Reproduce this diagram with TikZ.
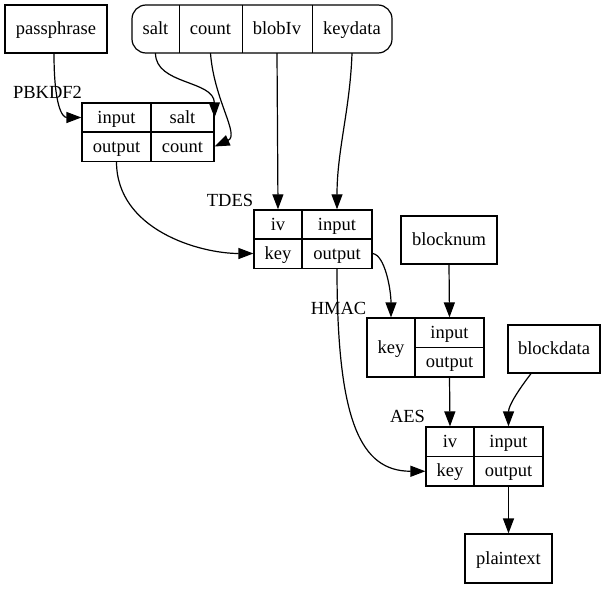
\documentclass[tikz,border=0pt]{standalone}
\usepackage{fontspec}
\setmainfont{Liberation Serif}
\usetikzlibrary{arrows.meta}
\begin{document}
\begin{tikzpicture}[x=1pt,y=-1pt,
  every node/.style={font=\fontsize{18.5}{20}\selectfont, inner sep=0pt, text height=14pt, text depth=3pt},
  box/.style={draw, line width=1.2pt, minimum height=48pt},
  cell/.style={draw, line width=1.2pt, minimum height=29.2pt},
  bare/.style={minimum height=48pt},
  lbl/.style={},
  edge/.style={line width=1.2pt, -{Triangle[length=15pt,width=11pt]}}]
\useasboundingbox (0,0) rectangle (607,589);
% simple boxes
\node[box, minimum width=102pt] (pass) at (56,29) {passphrase};
\node[box, minimum width=96pt] (blocknum) at (449,240) {blocknum};
\node[box, minimum width=92pt] (blockdata) at (554,349) {blockdata};
\node[box, minimum width=87pt, minimum height=49pt] (plain) at (508.5,558.5) {plaintext};
% top record
\node[draw, line width=1.2pt, rounded corners=14pt, minimum width=260pt, minimum height=48pt] (src) at (262,29) {};
\node[bare, minimum width=47pt] (salt) at (155.5,29) {salt};
\node[bare, minimum width=63pt] (count) at (210.5,29) {count};
\node[bare, minimum width=70pt] (blobiv) at (277,29) {blobIv};
\node[bare, minimum width=80pt] (keydata) at (352,29) {keydata};
\draw[line width=1.2pt] (salt.north east) -- (salt.south east);
\draw[line width=1.2pt] (count.north east) -- (count.south east);
\draw[line width=1.2pt] (blobiv.north east) -- (blobiv.south east);
% PBKDF2
\node[lbl] (pblbl) at (47.5,93) {PBKDF2};
\node[cell, minimum width=69pt] (pbin) at (116.5,117.5) {input};
\node[cell, minimum width=63pt] (pbsalt) at (182.5,117.5) {salt};
\node[cell, minimum width=69pt] (pbout) at (116.5,146.5) {output};
\node[cell, minimum width=63pt] (pbcount) at (182.5,146.5) {count};
% TDES
\node[lbl] (tdlbl) at (230,201) {TDES};
\node[cell, minimum width=48pt] (tdiv) at (278,224.5) {iv};
\node[cell, minimum width=70pt] (tdin) at (337,224.5) {input};
\node[cell, minimum width=48pt] (tdkey) at (278,253.5) {key};
\node[cell, minimum width=70pt] (tdout) at (337,253.5) {output};
% HMAC
\node[lbl] (hlbl) at (338.5,309) {HMAC};
\node[cell, minimum width=48pt, minimum height=59pt] (hkey) at (391,347.5) {key};
\node[cell, minimum width=69pt, minimum height=29.5pt] (hin) at (449.5,332.75) {input};
\node[cell, minimum width=69pt, minimum height=29.5pt] (hout) at (449.5,362.25) {output};
% AES
\node[lbl] (albl) at (407.5,417) {AES};
\node[cell, minimum width=48pt, minimum height=29.5pt] (aiv) at (450,441.75) {iv};
\node[cell, minimum width=69pt, minimum height=29.5pt] (ain) at (508.5,441.75) {input};
\node[cell, minimum width=48pt, minimum height=29.5pt] (akey) at (450,471.25) {key};
\node[cell, minimum width=69pt, minimum height=29.5pt] (aout) at (508.5,471.25) {output};
% edges
\draw[edge] ([xshift=-2pt]pass.south) .. controls (54,105) and (62,117.5) .. (pbin.west);
\draw[edge] (salt.south) .. controls (155.5,85) and (214,80) .. (pbsalt.east);
\draw[edge] (count.south) .. controls (214,100) and (240,135) .. (pbcount.east);
\draw[edge] (pbout.south) .. controls (116.5,230) and (200,253.5) .. (tdkey.west);
\draw[edge] (blobiv.south) -- (tdiv.north);
\draw[edge] (keydata.south) .. controls (350,110) and (337,150) .. (tdin.north);
\draw[edge] (tdout.east) .. controls (385,255) and (391,290) .. (hkey.north);
\draw[edge] (tdout.south) .. controls (337,420) and (360,471.25) .. (akey.west);
\draw[edge] (blocknum.south) -- (hin.north);
\draw[edge] (hout.south) -- (aiv.north);
\draw[edge] ([xshift=-23pt]blockdata.south) .. controls (520,388) and (508.5,405) .. (ain.north);
\draw[edge] (aout.south) -- (plain.north);
\end{tikzpicture}
\end{document}
